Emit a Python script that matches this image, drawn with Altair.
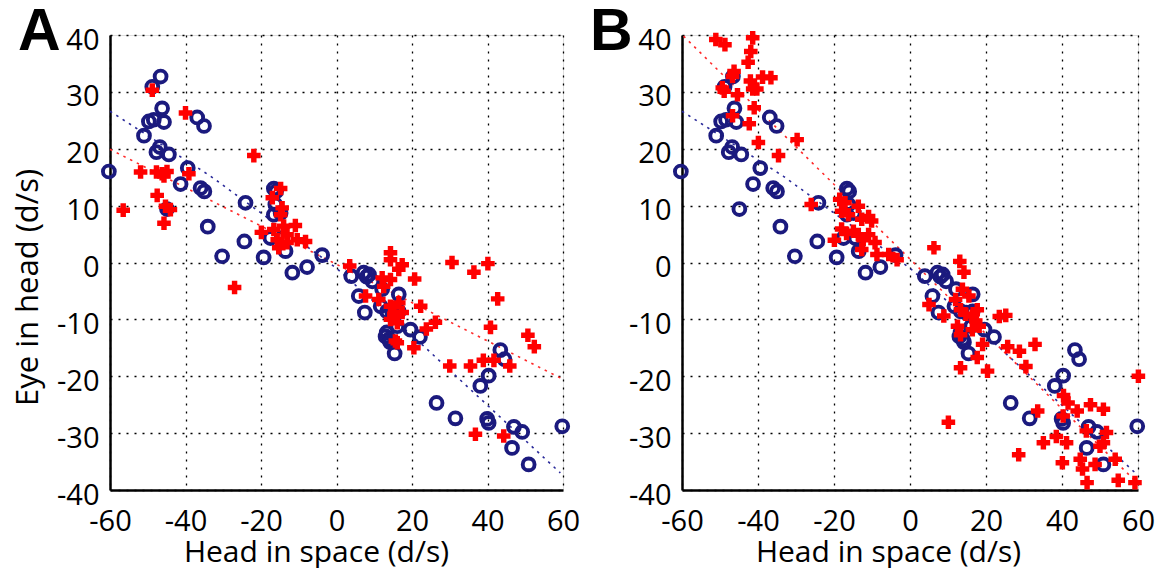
import altair as alt
import pandas as pd

# ---- data ----
blue_x = [-46.6, -48.8, -46.2, -49.7, -48.4, -45.7, -51.0, -36.9, -35.1, -46.8, -47.7, -44.4,
          -60.3, -39.4, -41.3, -36.0, -35.0, -44.9, -24.1, -34.1, -24.4, -30.3, -19.3, -11.7,
          -7.8, -16.6, -16.0, -16.2, -14.8, -16.6, -17.5, -14.4, -13.5, -3.8,
          3.9, 7.2, 8.6, 9.5, 8.0, 5.9, 7.5, 12.1, 16.5, 11.7, 13.4, 14.8, 16.5, 13.0, 13.9,
          13.3, 14.2, 16.1, 15.4, 19.6, 22.1, 43.4, 44.5, 40.3, 38.1, 26.5, 31.5, 39.9, 40.3,
          47.0, 49.2, 46.5, 50.9, 59.8]
blue_y = [32.7, 30.9, 27.1, 24.8, 25.1, 24.7, 22.3, 25.5, 24.0, 20.3, 19.4, 19.0,
          16.0, 16.6, 13.8, 13.1, 12.5, 9.4, 10.5, 6.3, 3.7, 1.1, 0.9, -1.8,
          -0.8, 13.0, 12.5, 10.2, 8.7, 8.4, 4.3, 4.3, 2.0, 1.3,
          -2.4, -1.8, -2.1, -3.3, -2.5, -5.9, -8.8, -4.7, -5.6, -7.7, -8.6, -8.8, -8.6, -13.0, -13.5,
          -12.3, -14.0, -11.2, -16.0, -11.8, -13.1, -15.4, -17.0, -19.9, -21.7, -24.7, -27.4, -27.5, -28.2,
          -28.9, -29.8, -32.6, -35.5, -28.8]

redA_x = [-48.8, -40.0, -21.9, -51.9, -47.7, -46.2, -44.9, -45.7, -39.1, -47.5, -45.3, -44.0,
          -56.5, -45.7, -14.8, -17.0, -14.4, -14.8, -19.9, -16.6, -14.0, -10.9, -13.1, -15.7,
          -15.3, -13.1, -10.4, -8.2, -27.0, 3.5,
          14.3, 14.3, 17.4, 16.5, 20.7, 12.1, 14.3, 12.5, 7.7, 11.2, 14.3, 16.5, 15.2, 17.4,
          22.3, 14.3, 16.1, 15.6, 23.8, 26.2, 30.6, 36.4, 40.1, 42.7, 40.8, 20.5, 16.1, 50.7,
          52.4, 30.0, 35.5, 38.9, 41.7, 45.9, 36.8, 44.3]
redA_y = [30.3, 26.3, 18.8, 15.9, 15.9, 15.6, 16.0, 15.2, 15.6, 11.8, 9.9, 9.3,
          9.2, 6.9, 13.0, 11.4, 9.6, 8.4, 5.3, 5.8, 6.4, 6.5, 4.9, 4.0,
          2.6, 3.5, 4.0, 3.7, -4.4, -0.6,
          1.7, 0.5, -0.4, -1.2, -2.9, -2.7, -3.0, -4.2, -5.9, -6.5, -7.7, -7.1, -9.1, -8.8,
          -7.7, -10.0, -10.6, -13.8, -11.7, -10.5, 0.0, -1.7, -0.2, -6.4, -11.4, -15.0, -14.1, -12.8,
          -14.8, -18.2, -18.2, -17.2, -17.2, -18.2, -30.2, -30.5]

redB_x = [-51.1, -48.7, -41.4, -41.9, -42.6, -46.3, -46.7, -38.8, -36.6, -42.0, -41.4, -40.3,
          -49.4, -48.9, -45.4, -41.0, -46.7, -42.3, -29.7, -39.9, -34.6, -26.0, -18.5, -17.1,
          -18.0, -16.2, -13.6, -10.9, -10.1, -12.7, -18.0, -16.7, -14.9, -13.6, -12.3, -10.9,
          -19.9, -12.7, -9.2, -8.7, -5.6, -3.4,
          6.3, 13.1, 14.2, 13.8, 15.5, 12.0, 5.0, 8.9, 13.3, 14.7, 16.4, 17.7, 17.3, 12.5,
          13.3, 16.4, 18.2, 19.1, 17.7, 13.3, 20.4, 23.5, 25.2, 25.7, 28.8, 32.9, 30.5, 10.1,
          33.6, 40.4, 41.6, 40.3, 44.0, 47.5, 50.9, 60.1, 46.4, 51.7, 50.9, 50.0, 38.5, 41.2,
          35.1, 28.6, 40.1, 44.8, 45.4, 48.7, 54.0, 46.6, 54.8, 59.2]
redB_y = [39.2, 38.3, 39.5, 37.1, 35.2, 33.6, 32.7, 32.6, 32.5, 31.9, 30.5, 30.5,
          30.7, 30.1, 29.5, 27.2, 25.8, 24.4, 21.6, 21.1, 18.8, 10.2, 11.1, 10.5,
          9.0, 8.4, 9.9, 8.1, 7.3, 7.6, 5.9, 5.1, 5.5, 4.9, 4.0, 4.9,
          3.9, 2.3, 3.5, 1.4, 1.4, 0.5,
          2.6, 0.2, -1.7, -4.7, -5.9, -6.5, -7.4, -9.4, -8.3, -9.1, -9.4, -8.3, -10.3, -11.2,
          -12.7, -11.8, -11.2, -14.4, -16.7, -18.5, -19.1, -9.5, -9.3, -14.8, -15.6, -14.4, -18.3, -28.1,
          -26.1, -23.4, -24.7, -27.0, -26.1, -25.0, -25.8, -20.0, -29.6, -29.9, -31.7, -32.3, -30.6, -31.7,
          -31.7, -33.8, -35.2, -34.6, -36.3, -35.5, -34.6, -38.7, -38.3, -38.7]

# fitted dotted lines (end/through points)
fit_blue_x = [-60.0, -33.4, 0.0, 23.1, 59.3]
fit_blue_y = [26.6, 15.2, -1.0, -14.7, -37.0]
fitA_red_x = [-60.0, 60.2]
fitA_red_y = [19.9, -20.6]
fitB_red_x = [-59.6, 59.7]
fitB_red_y = [39.8, -38.7]

x_ticks = [-60, -40, -20, 0, 20, 40, 60]
y_ticks = [-40, -30, -20, -10, 0, 10, 20, 30, 40]

BLUE = "#1b1a7e"
RED = "#ff0000"
FONT = "Open Sans"


def panel(letter, rx, ry, frx, fry, width, show_ytitle):
    xs = alt.Scale(domain=[-60, 60], nice=False, zero=False)
    ys = alt.Scale(domain=[-40, 40], nice=False, zero=False)
    xaxis = alt.Axis(values=x_ticks, title="Head in space (d/s)", grid=True,
                     gridColor="black", gridDash=[2, 6], gridWidth=1.3, gridOpacity=1,
                     domainColor="black", domainWidth=2.5, tickSize=0,
                     labelFont=FONT, labelFontSize=29, labelColor="black",
                     labelBaseline="alphabetic", labelPadding=40,
                     labelExpr="datum.value < 0 ? '-' + abs(datum.value) + '\u2002' : '' + datum.value",
                     labelOverlap=False, labelFlush=False,
                     titleFont=FONT, titleFontSize=30, titleFontWeight="normal", titleColor="black",
                     titleBaseline="alphabetic", titleY=71, titleX=206)
    if show_ytitle:
        ytitle = dict(title="Eye in head (d/s)", titleFont=FONT, titleFontSize=31,
                      titleFontWeight="normal", titleColor="black", titleAngle=-90,
                      titleBaseline="alphabetic", titleAlign="center", titleX=-73, titleY=252)
    else:
        ytitle = dict(title=None)
    yaxis = alt.Axis(values=y_ticks, grid=True,
                     gridColor="black", gridDash=[2, 6], gridWidth=1.3, gridOpacity=1,
                     domainColor="black", domainWidth=2.5, tickSize=0,
                     labelFont=FONT, labelFontSize=29, labelColor="black",
                     labelBaseline="alphabetic", labelOffset=14, labelPadding=11,
                     labelExpr="datum.value < 0 ? '-' + abs(datum.value) : '' + datum.value",
                     labelOverlap=False, labelFlush=False, **ytitle)

    fb = pd.DataFrame({"x": fit_blue_x, "y": fit_blue_y})
    fr = pd.DataFrame({"x": frx, "y": fry})
    bd = pd.DataFrame({"x": blue_x, "y": blue_y})
    rd = pd.DataFrame({"x": rx, "y": ry})

    enc = dict(x=alt.X("x:Q", scale=xs, axis=xaxis), y=alt.Y("y:Q", scale=ys, axis=yaxis))

    line_b = alt.Chart(fb).mark_line(color="#2a2a9a", strokeDash=[2.5, 5], strokeWidth=1.6).encode(**enc)
    line_r = alt.Chart(fr).mark_line(color="#ff2a2a", strokeDash=[2.5, 5], strokeWidth=1.6).encode(**enc)
    pts_b = alt.Chart(bd).mark_point(shape="circle", filled=False, size=140, strokeWidth=3.9,
                                     color=BLUE, opacity=1).encode(**enc)
    pts_r = alt.Chart(rd).mark_point(shape="cross", filled=True, size=185, color=RED,
                                     opacity=1, strokeWidth=0).encode(**enc)
    lab = alt.Chart(pd.DataFrame({"t": [letter]})).mark_text(
        font="Liberation Sans", fontSize=59, fontWeight="bold", color="black",
        align="left", baseline="alphabetic").encode(
        text="t:N", x=alt.value(-92), y=alt.value(15))

    return alt.layer(line_b, line_r, pts_b, pts_r, lab).properties(width=width, height=455)


A = panel("A", redA_x, redA_y, fitA_red_x, fitA_red_y, 453, True)
B = panel("B", redB_x, redB_y, fitB_red_x, fitB_red_y, 456, False)

chart = alt.hconcat(A, B, spacing=119, bounds="flush").properties(
    padding={"left": 3, "top": -6, "right": 0, "bottom": 0}
).configure_view(stroke=None).configure(background="white")

chart.save("out.html", embed_options={"renderer": "svg", "actions": False})
